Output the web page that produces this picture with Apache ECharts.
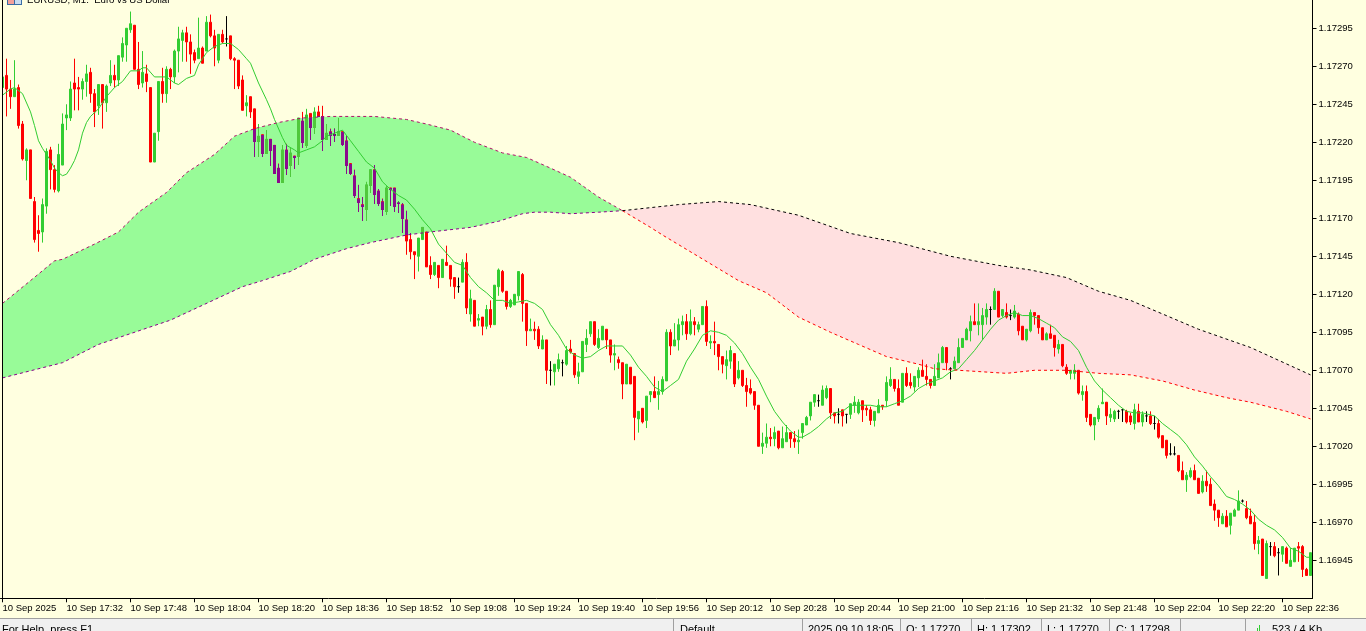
<!DOCTYPE html>
<html><head><meta charset="utf-8">
<style>html,body{margin:0;padding:0;background:#FFFFE0;overflow:hidden}#c{width:1366px;height:631px}</style>
<script src="https://cdn.jsdelivr.net/npm/echarts@6/dist/echarts.min.js"></script></head>
<body><div id="c"></div>
<script>
// Prices are stored in points above 1.16000 (1256 = 1.17256)
const BASE = 1.16, POINT = 0.00001;
const opens = [1256,1264,1255,1250,1256,1232,1208,1215,1181,1162,1161,1178,1215,1202,1188,1205,1236,1236,1259,1256,
1255,1260,1266,1252,1244,1258,1246,1259,1264,1261,1276,1284,1294,1297,1268,1259,1265,1256,1207,1227,
1260,1252,1268,1263,1280,1287,1292,1286,1279,1275,1282,1280,1299,1290,1274,1291,1288,1290,1275,1274,
1261,1244,1250,1242,1221,1225,1213,1222,1218,1203,1194,1215,1205,1211,1211,1234,1218,1239,1230,1240,
1237,1222,1227,1225,1225,1227,1221,1206,1198,1183,1179,1176,1192,1202,1188,1181,1175,1190,1190,1180,
1179,1169,1156,1148,1145,1156,1161,1139,1133,1139,1131,1141,1139,1131,1125,1128,1141,1107,1116,1103,
1105,1099,1110,1100,1125,1135,1122,1112,1113,1119,1133,1114,1096,1097,1097,1084,1090,1070,1069,1071,
1075,1074,1084,1081,1066,1069,1087,1094,1102,1085,1090,1097,1090,1080,1077,1075,1061,1072,1066,1038,
1045,1037,1054,1056,1054,1056,1063,1095,1086,1090,1100,1102,1094,1102,1097,1100,1112,1088,1089,1087,
1079,1073,1076,1081,1065,1070,1060,1058,1056,1047,1020,1022,1026,1025,1030,1019,1023,1029,1025,1023,
1029,1034,1040,1049,1050,1047,1052,1058,1042,1041,1044,1041,1041,1047,1042,1050,1045,1044,1037,1042,
1047,1050,1060,1064,1058,1049,1068,1062,1059,1065,1070,1066,1064,1060,1065,1075,1085,1071,1071,1075,
1085,1090,1096,1102,1100,1100,1105,1110,1110,1122,1106,1108,1106,1105,1107,1099,1090,1096,1108,1106,
1098,1090,1094,1093,1084,1087,1072,1068,1068,1070,1054,1056,1041,1034,1038,1048,1049,1039,1038,1043,
1044,1043,1040,1035,1043,1036,1040,1040,1035,1035,1027,1024,1015,1015,1014,1004,998,1000,1004,999,
990,997,995,982,978,969,974,968,974,978,984,979,974,970,956,959,933,954,954,950,
949,953,941,944,954,954,939,935];
const closes = [1263,1255,1250,1255,1231,1209,1215,1183,1156,1160,1179,1214,1202,1189,1212,1232,1238,1255,1255,1255,
1260,1265,1252,1240,1258,1246,1257,1264,1261,1277,1285,1295,1298,1268,1258,1266,1260,1207,1226,1260,
1252,1268,1263,1280,1288,1292,1286,1278,1274,1282,1272,1299,1290,1282,1291,1286,1288,1275,1274,1257,
1241,1246,1240,1221,1224,1213,1222,1215,1200,1194,1215,1203,1213,1210,1236,1220,1238,1230,1240,1237,
1222,1226,1225,1225,1227,1219,1205,1200,1185,1181,1178,1192,1202,1186,1180,1176,1190,1189,1178,1180,
1170,1155,1148,1146,1157,1164,1138,1133,1141,1131,1143,1139,1130,1125,1125,1141,1111,1117,1099,1104,
1099,1110,1100,1126,1136,1122,1112,1116,1120,1135,1114,1096,1097,1096,1086,1090,1070,1070,1074,1077,
1075,1083,1082,1067,1069,1089,1091,1102,1087,1091,1099,1090,1080,1081,1075,1061,1074,1061,1039,1043,
1036,1053,1056,1052,1056,1064,1095,1086,1090,1100,1102,1094,1102,1100,1100,1112,1089,1089,1088,1079,
1074,1077,1083,1061,1070,1060,1056,1055,1047,1020,1022,1026,1025,1029,1019,1025,1029,1025,1023,1024,
1035,1039,1049,1054,1050,1057,1058,1042,1040,1041,1040,1041,1048,1049,1049,1044,1044,1037,1043,1047,
1046,1062,1064,1058,1047,1068,1060,1060,1066,1070,1066,1064,1060,1066,1075,1085,1075,1071,1076,1085,
1091,1097,1102,1100,1102,1106,1110,1110,1122,1105,1110,1105,1106,1109,1096,1090,1097,1108,1106,1098,
1090,1094,1091,1085,1087,1073,1068,1070,1070,1055,1056,1039,1034,1039,1045,1049,1040,1041,1043,1043,
1044,1036,1036,1044,1036,1041,1040,1035,1035,1026,1019,1014,1015,1015,1004,998,1001,1004,998,989,
997,994,981,978,973,974,967,976,978,984,984,973,969,956,958,935,956,954,948,950,
954,943,945,953,953,939,935,950];
const lows = [1255,1237,1242,1250,1229,1208,1195,1183,1154,1148,1154,1173,1189,1187,1187,1205,1228,1234,1241,1241,
1248,1250,1246,1230,1238,1229,1240,1257,1256,1257,1273,1273,1292,1268,1255,1256,1253,1207,1207,1221,
1246,1246,1255,1259,1266,1273,1273,1265,1272,1275,1272,1280,1289,1270,1272,1285,1283,1274,1255,1255,
1241,1237,1236,1211,1211,1211,1213,1205,1200,1194,1194,1199,1198,1203,1206,1217,1217,1222,1226,1237,
1215,1222,1218,1221,1225,1218,1200,1199,1184,1175,1169,1169,1187,1180,1179,1172,1173,1179,1175,1174,
1161,1146,1143,1130,1135,1156,1138,1130,1132,1124,1131,1139,1125,1117,1121,1128,1107,1102,1099,1099,
1093,1097,1098,1100,1119,1121,1110,1111,1113,1116,1102,1086,1096,1090,1084,1084,1061,1060,1060,1069,
1066,1073,1081,1065,1061,1069,1082,1092,1086,1084,1090,1084,1075,1070,1071,1051,1061,1061,1024,1029,
1035,1032,1049,1052,1044,1054,1063,1080,1086,1083,1093,1090,1093,1093,1095,1100,1086,1084,1080,1070,
1068,1064,1071,1059,1064,1059,1046,1054,1044,1020,1015,1019,1020,1020,1018,1019,1023,1019,1019,1015,
1025,1034,1037,1046,1046,1047,1051,1038,1035,1035,1033,1035,1038,1042,1041,1036,1040,1034,1033,1042,
1044,1046,1059,1056,1047,1049,1059,1058,1056,1059,1066,1060,1058,1060,1065,1075,1070,1064,1071,1075,
1085,1090,1089,1100,1093,1090,1100,1100,1110,1105,1105,1104,1103,1104,1093,1090,1089,1095,1100,1094,
1090,1090,1091,1079,1081,1072,1067,1064,1064,1054,1050,1036,1033,1024,1036,1048,1034,1036,1036,1038,
1036,1035,1034,1031,1036,1033,1036,1034,1031,1025,1019,1012,1014,1014,1003,998,990,999,998,989,
989,990,981,971,967,969,967,962,974,978,983,972,969,952,949,935,933,948,947,935,
944,943,941,944,944,934,935,935];
const highs = [1264,1275,1261,1274,1258,1234,1216,1215,1184,1172,1183,1216,1217,1205,1219,1239,1245,1260,1275,1263,
1262,1271,1269,1255,1258,1258,1258,1274,1271,1277,1289,1295,1306,1297,1286,1280,1271,1256,1226,1260,
1269,1270,1269,1281,1296,1294,1296,1291,1281,1302,1283,1303,1304,1294,1291,1294,1303,1290,1276,1274,
1264,1251,1250,1242,1232,1225,1228,1222,1218,1206,1218,1219,1216,1211,1236,1240,1242,1239,1243,1244,
1244,1232,1229,1229,1236,1227,1224,1206,1202,1192,1184,1194,1202,1205,1189,1183,1191,1190,1190,1181,
1180,1175,1160,1148,1157,1164,1161,1145,1141,1139,1143,1152,1139,1131,1131,1143,1147,1123,1116,1107,
1105,1113,1116,1126,1137,1136,1122,1117,1120,1135,1134,1114,1104,1102,1099,1093,1090,1076,1074,1081,
1077,1086,1090,1081,1075,1089,1097,1102,1102,1097,1099,1097,1090,1087,1079,1075,1074,1072,1066,1043,
1045,1053,1056,1066,1063,1066,1097,1097,1101,1104,1106,1107,1110,1105,1102,1112,1116,1093,1102,1087,
1079,1083,1086,1081,1076,1070,1065,1064,1056,1047,1029,1035,1032,1033,1030,1033,1034,1029,1030,1031,
1035,1040,1049,1054,1054,1060,1060,1058,1042,1045,1044,1041,1048,1053,1051,1050,1047,1046,1043,1051,
1047,1066,1072,1064,1064,1068,1072,1068,1066,1072,1077,1074,1064,1074,1081,1086,1085,1072,1079,1091,
1091,1098,1106,1114,1114,1111,1114,1112,1124,1122,1110,1114,1110,1113,1108,1099,1097,1110,1108,1106,
1098,1095,1100,1093,1090,1087,1074,1070,1074,1070,1060,1060,1041,1039,1047,1058,1049,1045,1044,1044,
1044,1044,1042,1048,1048,1043,1043,1043,1040,1038,1027,1024,1022,1020,1014,1010,1003,1006,1008,999,
1001,1004,999,985,978,976,978,976,979,991,985,984,979,975,961,959,958,957,957,953,
954,954,953,953,957,955,940,950];

const maIdx = [0,2,3,5,7,8,9,10,12,13,14,15,16,17,18,19,20,21,22,24,26,28,30,32,34,35,36,38,41,43,44,46,48,49,51,53,55,57,59,61,62,64,66,67,68,70,71,73,74,76,78,80,81,83,85,87,89,91,93,95,97,99,101,103,105,107,109,111,113,115,117,119,121,123,125,127,129,131,133,135,137,139,141,143,145,147,149,151,153,155,157,159,161,163,165,167,169,171,173,175,177,179,181,183,185,187,189,191,193,195,197,199,200,202,204,206,208,210,212,213,215,217,219,221,223,225,227,229,231,233,235,237,239,241,243,245,247,249,251,253,255,257,259,261,263,265,267,269,271,273,275,277,279,281,283,285,288,290,292,294,296,298,300,302,304,306,308,310,312,314,316,318,320,322,324,326,327];
const maVal = [1251,1255,1256,1252,1240,1231,1221,1216,1208,1203,1200,1198,1199,1203,1208,1215,1226,1233,1237,1242,1250,1256,1260,1267,1267,1269,1269,1263,1263,1259,1258,1262,1264,1271,1279,1283,1285,1285,1281,1275,1272,1259,1248,1242,1235,1223,1218,1215,1213,1215,1217,1221,1224,1226,1228,1221,1214,1207,1203,1194,1189,1185,1182,1176,1169,1163,1153,1147,1141,1139,1131,1125,1121,1116,1116,1114,1115,1116,1114,1110,1100,1093,1084,1080,1078,1079,1083,1086,1086,1086,1080,1072,1066,1059,1056,1060,1064,1076,1084,1093,1096,1095,1093,1088,1081,1072,1064,1053,1043,1036,1030,1026,1026,1029,1033,1038,1042,1043,1047,1047,1047,1047,1046,1046,1048,1050,1053,1058,1061,1063,1065,1069,1071,1077,1083,1090,1097,1103,1106,1108,1106,1106,1104,1101,1098,1092,1089,1083,1072,1063,1057,1052,1047,1043,1042,1042,1040,1035,1031,1027,1021,1013,1007,1000,994,987,985,982,978,972,968,965,960,953,951,947,947];

const spanAIdx = [0,7,13,15,23,29,34,41,46,53,58,63,69,75,82,93,101,106,112,118,125,131,137,142,149,155,162,165,184,191,199,207,214,221,229,233,239,251,258,266,274,282,290,298,306,312,321,327];
const spanAVal = [1114,1129,1142,1143,1153,1161,1174,1187,1200,1212,1224,1229,1233,1236,1237,1237,1235,1232,1228,1220,1213,1210,1203,1197,1184,1175,1164,1159,1129,1121,1105,1095,1087,1079,1074,1071,1070,1068,1070,1070,1068,1067,1063,1057,1052,1049,1043,1038];
const spanBIdx = [0,15,24,42,60,65,72,78,86,92,101,107,117,124,130,133,137,142,149,155,162,169,179,187,199,212,224,237,249,257,266,274,282,299,312,327];
const spanBVal = [1065,1075,1087,1103,1125,1129,1135,1143,1150,1154,1159,1161,1164,1168,1173,1174,1174,1173,1174,1175,1177,1179,1181,1179,1172,1160,1154,1145,1139,1136,1131,1122,1116,1097,1085,1067];

const yTicks = [1.16945,1.16970,1.16995,1.17020,1.17045,1.17070,1.17095,1.17120,1.17145,1.17170,1.17195,1.17220,1.17245,1.17270,1.17295];
const startMinute = 17*60+16;
const categories = opens.map((_,i)=>{const m=startMinute+i;return String(Math.floor(m/60)).padStart(2,'0')+':'+String(m%60).padStart(2,'0');});
const px = p => +(BASE + p*POINT).toFixed(5);

const C = {bg:'#FFFFE0',up:'#32CD32',down:'#FF0000',doji:'#000000',green:'#98FB98',pink:'#FFE0E0',purple:'#8B0A8C',upTint:'#50C83C'};
const candles = opens.map((o,i)=>{
  const item={value:[px(o),px(closes[i]),px(lows[i]),px(highs[i])]};
  if(o===closes[i]) item.itemStyle={color:C.doji,color0:C.doji,borderColor:C.doji,borderColor0:C.doji,borderColorDoji:C.doji};
  return item;
});
function sparse(idx,val,keep){
  const out=new Array(categories.length).fill(null);
  idx.forEach((k,j)=>{if(!keep||keep(k)) out[k]=px(val[j]);});
  return out;
}
function interp(idx,val,i){
  for(let j=1;j<idx.length;j++) if(i<=idx[j]){const t=(i-idx[j-1])/(idx[j]-idx[j-1]);return val[j-1]+t*(val[j]-val[j-1]);}
  return val[val.length-1];
}
const CROSS=155;
function cloudRender(params,api){
  const left=params.dataIndex===0;
  const keep=k=>left?k<=CROSS:k>=CROSS;
  const pts=[];
  spanAIdx.forEach((k,j)=>{if(keep(k)) pts.push(api.coord([k,px(spanAVal[j])]));});
  const rev=[];
  spanBIdx.forEach((k,j)=>{if(keep(k)) rev.push(api.coord([k,px(spanBVal[j])]));});
  return {type:'polygon',shape:{points:pts.concat(rev.reverse())},style:{fill:left?C.green:C.pink,stroke:null}};
}
function tintRender(params,api){
  const i=params.dataIndex;
  const top=Math.round(api.coord([i,px(interp(spanAIdx,spanAVal,i))])[1]);
  const bot=Math.round(api.coord([i,px(interp(spanBIdx,spanBVal,i))])[1]);
  const y=v=>api.coord([i,px(v)])[1];
  const cx=Math.floor(api.coord([i,px(opens[i])])[0]);
  const up=closes[i]>opens[i];
  const col=up?C.upTint:C.purple;
  const kids=[];
  const add=(x,w,y0,y1)=>{const a=Math.max(top,Math.round(y0)),b=Math.min(bot,Math.round(y1));if(b>a)kids.push({type:'rect',shape:{x:x,y:a,width:w,height:b-a},style:{fill:col}});};
  add(cx,1,y(highs[i]),y(lows[i])+1);
  add(cx-1,3,y(Math.max(opens[i],closes[i])),y(Math.min(opens[i],closes[i]))+1);
  return {type:'group',children:kids};
}
const dashed=(name,idx,val,keep,color)=>({name,type:'line',data:sparse(idx,val,keep),connectNulls:true,symbol:'none',silent:true,z:6,
  lineStyle:{color,width:1,type:[3,3]}});
const ui=(o)=>Object.assign({silent:true,z:100},o);
const uiFont='"Liberation Sans", Arial, sans-serif';
const statusTexts=[['For Help, press F1',2],['Default',680],['2025.09.10 18:05',808],['O: 1.17270',906],['H: 1.17302',977],['L: 1.17270',1047],['C: 1.17298',1116],['523 / 4 Kb',1272]];
const statusSeps=[673,802,900,971,1041,1109,1180,1245];
const chart=echarts.init(document.getElementById('c'),null,{renderer:'canvas',width:1366,height:631});
chart.setOption({
  animation:false,backgroundColor:C.bg,
  grid:{left:0.5,right:53.5,top:0,height:598.3,containLabel:false,outerBoundsMode:'none'},
  xAxis:{type:'category',data:categories,boundaryGap:true,
    axisLine:{lineStyle:{color:'#000',width:1}},
    axisTick:{show:true,interval:15,alignWithLabel:true,length:4,lineStyle:{color:'#000'}},
    axisLabel:{interval:15,align:'left',margin:5,color:'#000',fontFamily:'"Liberation Sans",sans-serif',fontSize:9.5,
      formatter:(v,i)=>i===0?'10 Sep 2025':'10 Sep '+v},
    splitLine:{show:false}},
  yAxis:{type:'value',position:'right',min:1.1692,max:1.173136,scale:true,
    axisLine:{show:true,lineStyle:{color:'#000',width:1}},
    axisTick:{show:true,length:4,lineStyle:{color:'#000'},customValues:yTicks},
    axisLabel:{margin:6,color:'#000',fontFamily:'"Liberation Sans",sans-serif',fontSize:9.5,customValues:yTicks,formatter:v=>v.toFixed(5)},
    splitLine:{show:false}},
  series:[
    {type:'custom',name:'Cloud',data:[[0],[1]],renderItem:cloudRender,clip:true,silent:true,z:1},
    {type:'candlestick',name:'EURUSD',data:candles,barWidth:2,clip:true,silent:true,z:2,progressive:0,
      itemStyle:{color:C.up,color0:C.down,borderColor:C.up,borderColor0:C.down,borderWidth:1}},
    {type:'custom',name:'Candles in cloud',data:opens.map((_,i)=>i).filter(i=>i<=CROSS).map(i=>[i]),renderItem:tintRender,clip:true,silent:true,z:3},
    {type:'line',name:'MA',data:sparse(maIdx,maVal),connectNulls:true,symbol:'none',silent:true,z:5,lineStyle:{color:C.up,width:1}},
    dashed('Span A left',spanAIdx,spanAVal,k=>k<=CROSS,'#B0126A'),
    dashed('Span A right',spanAIdx,spanAVal,k=>k>=CROSS,'#FF0000'),
    dashed('Span B left',spanBIdx,spanBVal,k=>k<=CROSS,'#8B008B'),
    dashed('Span B right',spanBIdx,spanBVal,k=>k>=CROSS,'#000000')
  ],
  graphic:{elements:[
    ui({type:'rect',shape:{x:0,y:0,width:2,height:598},style:{fill:C.bg}}),
    ui({type:'rect',shape:{x:2,y:0,width:1,height:598},style:{fill:'#000'}}),
    ui({type:'rect',shape:{x:7,y:0,width:15,height:5},style:{fill:'#3A6EA5'}}),
    ui({type:'rect',shape:{x:8,y:0,width:6,height:4},style:{fill:'#F4A09A'}}),
    ui({type:'rect',shape:{x:15,y:0,width:6,height:4},style:{fill:'#C8DCF0'}}),
    ui({type:'text',style:{x:27,y:-5,text:'EURUSD, M1:  Euro vs US Dollar',fill:'#000',font:'9.6px '+uiFont,textVerticalAlign:'top'}}),
    ui({type:'rect',shape:{x:0,y:618,width:1366,height:13},style:{fill:'#F0F0F0'}}),
    ui({type:'rect',shape:{x:0,y:618,width:1366,height:1},style:{fill:'#A0A0A0'}}),
    ...statusSeps.map(x=>ui({type:'rect',shape:{x:x,y:619,width:1,height:12},style:{fill:'#A0A0A0'}})),
    ...statusTexts.map(t=>ui({type:'text',style:{x:t[1],y:624,text:t[0],fill:'#000',font:'11px '+uiFont,textVerticalAlign:'top'}})),
    ui({type:'rect',shape:{x:1257,y:628,width:1,height:3},style:{fill:'#32CD32'}}),
    ui({type:'rect',shape:{x:1259,y:625,width:1,height:6},style:{fill:'#32CD32'}})
  ]}
});
</script></body></html>
